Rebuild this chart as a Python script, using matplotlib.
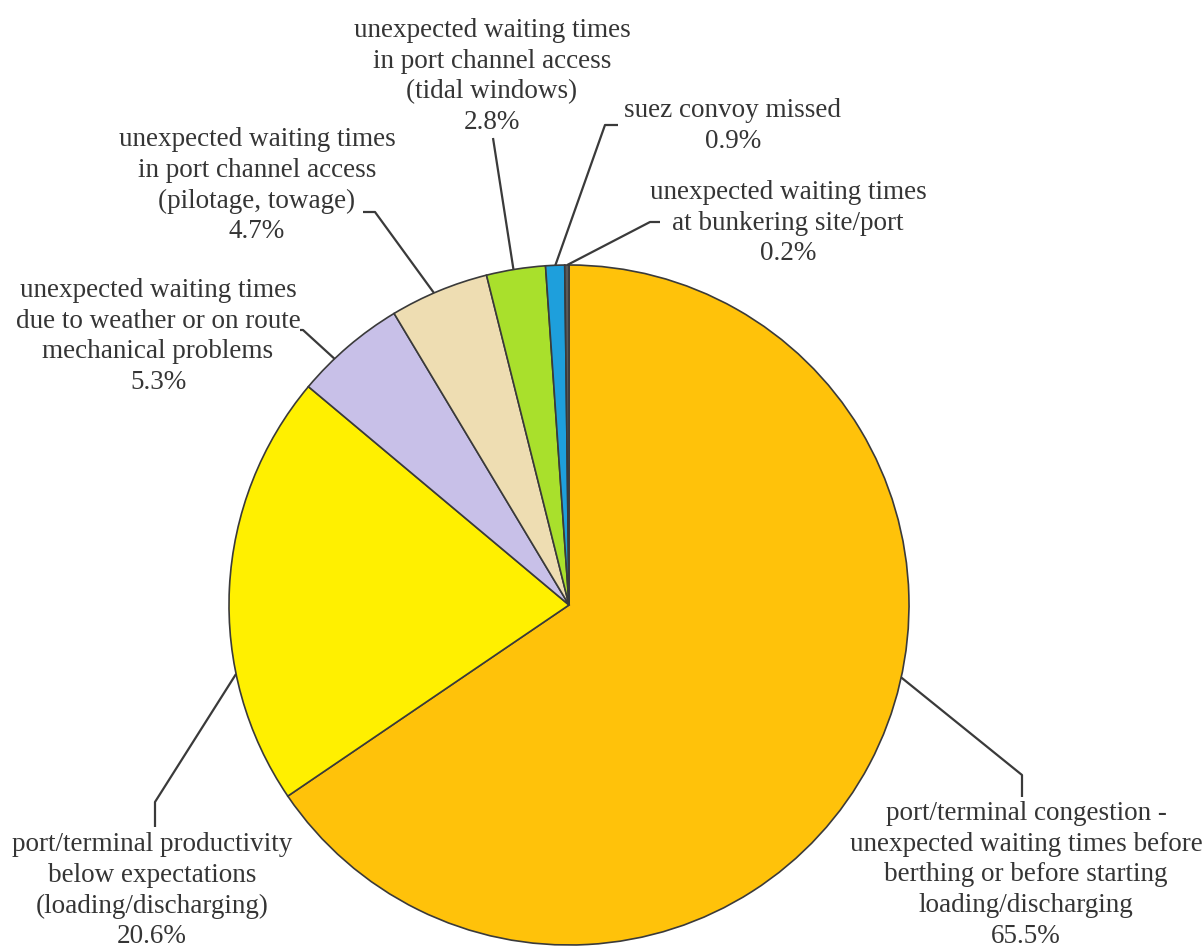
import numpy as np
import matplotlib.pyplot as plt

# pie data (clockwise from 12 o'clock)
causes = [
    "port/terminal congestion -\nunexpected waiting times before\nberthing or before starting\nloading/discharging",
    "port/terminal productivity\nbelow expectations\n(loading/discharging)",
    "unexpected waiting times\ndue to weather or on route\nmechanical problems",
    "unexpected waiting times\nin port channel access\n(pilotage, towage)",
    "unexpected waiting times\nin port channel access\n(tidal windows)",
    "suez convoy missed",
    "unexpected waiting times\nat bunkering site/port",
]
shares = [65.5, 20.6, 5.3, 4.7, 2.8, 0.9, 0.2]
colors = ["#FFC20A", "#FFF000", "#C8C0E8", "#EEDDB2", "#A9E02C", "#1E9FDC", "#5A5A5A"]

W, H = 1204, 950
cx, cy, r = 569, 605, 340   # pie centre / radius in pixels (y down)

# label layout: text centre x, top y, elbow points of leader, attach angle on the pie
label_xy = [(1026, 801), (152, 832), (158, 278), (257, 127), (492, 18), (733, 98), (788, 180)]
elbows = [
    [(1022, 797), (1022, 775)],
    [(155, 827), (155, 802)],
    [(300, 330), (303, 330)],
    [(363, 212), (375, 212)],
    [(493, 138)],
    [(618, 125), (605, 125)],
    [(660, 222), (650, 222)],
]
attach_deg = [-12.3, 191.7, 133.6, 113.4, 99.4, 92.3, 90.3]

plt.rcParams["font.family"] = ["Liberation Serif", "DejaVu Serif"]
fig = plt.figure(figsize=(W / 100, H / 100), dpi=100)
ax = fig.add_axes([0, 0, 1, 1])

ax.pie(shares, colors=colors, startangle=90, counterclock=False,
       center=(cx, H - cy), radius=r,
       wedgeprops=dict(edgecolor="#3a3a3a", linewidth=1.2))

line_col = "#3a3a3a"
txt_col = "#353535"
for name, pct, (tx, ty), pts, ang in zip(causes, shares, label_xy, elbows, attach_deg):
    a = np.deg2rad(ang)
    px, py = cx + r * np.cos(a), cy - r * np.sin(a)
    xs = [p[0] for p in pts] + [px]
    ys = [H - p[1] for p in pts] + [H - py]
    ax.plot(xs, ys, color=line_col, lw=1.6, solid_capstyle="butt")
    ax.text(tx, H - ty, f"{name}\n{pct}%", ha="center", va="top",
            fontsize=19.5, color=txt_col, linespacing=1.3)

ax.set_xlim(0, W)
ax.set_ylim(0, H)
ax.set_aspect("equal")
ax.axis("off")

fig.savefig("out.png", dpi=100)
